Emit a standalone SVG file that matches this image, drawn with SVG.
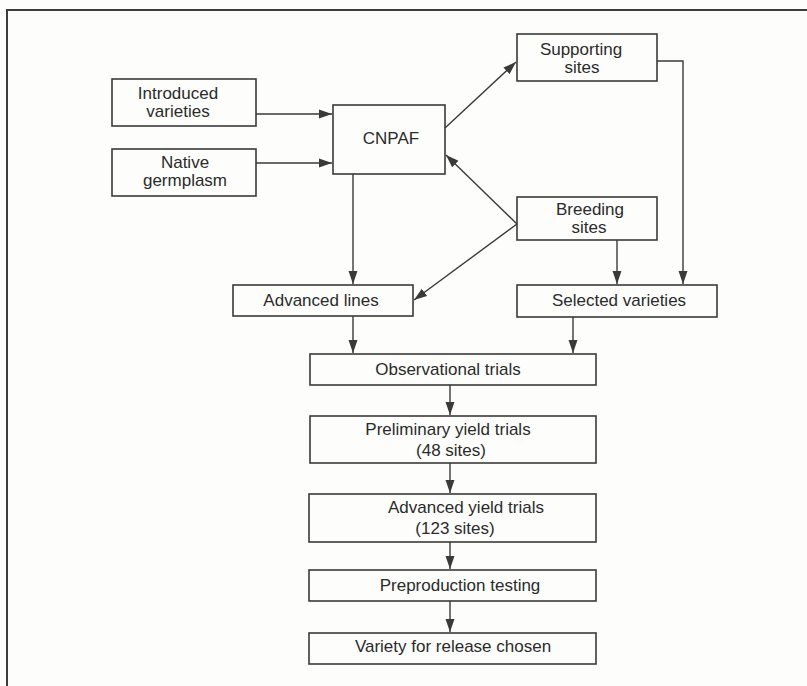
<svg xmlns="http://www.w3.org/2000/svg" width="807" height="686" viewBox="0 0 807 686">
<defs>
<style>
.box{fill:none;stroke:#3a3a3a;stroke-width:1.6}
.t{font-family:"Liberation Sans",Arial,sans-serif;font-size:17px;fill:#2b2b2b;text-anchor:middle}
.c{fill:none;stroke:#3a3a3a;stroke-width:1.4}
.frame{fill:none;stroke:#3a4038;stroke-width:2}
</style>
<marker id="ah" markerUnits="userSpaceOnUse" markerWidth="13" markerHeight="10" refX="13" refY="5" orient="auto">
<path d="M0,0.5 L13,5 L0,9.5 Z" fill="#3a3a3a"/>
</marker>
</defs>
<rect width="807" height="686" fill="#fdfdfb"/>
<path class="frame" d="M7,686 V10 H807"/>

<g id="connectors">
<line class="c" x1="256" y1="114" x2="332" y2="114" marker-end="url(#ah)"/>
<line class="c" x1="256" y1="163" x2="332" y2="163" marker-end="url(#ah)"/>
<line class="c" x1="445" y1="128" x2="516" y2="62" marker-end="url(#ah)"/>
<polyline class="c" points="657,61 683,61 683,284" marker-end="url(#ah)"/>
<line class="c" x1="517" y1="224" x2="446" y2="155" marker-end="url(#ah)"/>
<line class="c" x1="517" y1="224" x2="414" y2="300" marker-end="url(#ah)"/>
<line class="c" x1="617" y1="240" x2="617" y2="284" marker-end="url(#ah)"/>
<line class="c" x1="353" y1="174" x2="353" y2="284" marker-end="url(#ah)"/>
<line class="c" x1="353" y1="316" x2="353" y2="353" marker-end="url(#ah)"/>
<line class="c" x1="573" y1="317" x2="573" y2="353" marker-end="url(#ah)"/>
<line class="c" x1="450" y1="385" x2="450" y2="415" marker-end="url(#ah)"/>
<line class="c" x1="450" y1="463" x2="450" y2="493" marker-end="url(#ah)"/>
<line class="c" x1="450" y1="542" x2="450" y2="569" marker-end="url(#ah)"/>
<line class="c" x1="450" y1="601" x2="450" y2="632" marker-end="url(#ah)"/>
</g>

<g id="introduced">
<rect class="box" x="112" y="79" width="144" height="47"/>
<text class="t" x="178" y="99">Introduced</text>
<text class="t" x="178" y="117">varieties</text>
</g>
<g id="native">
<rect class="box" x="112" y="149" width="144" height="47"/>
<text class="t" x="185" y="168">Native</text>
<text class="t" x="185" y="186">germplasm</text>
</g>
<g id="cnpaf">
<rect class="box" x="333" y="105" width="112" height="69"/>
<text class="t" x="391" y="144">CNPAF</text>
</g>
<g id="supporting">
<rect class="box" x="517" y="34" width="140" height="47"/>
<text class="t" x="581" y="55">Supporting</text>
<text class="t" x="582" y="73">sites</text>
</g>
<g id="breeding">
<rect class="box" x="517" y="197" width="140" height="43"/>
<text class="t" x="590" y="215">Breeding</text>
<text class="t" x="589" y="233">sites</text>
</g>
<g id="advanced-lines">
<rect class="box" x="233" y="285" width="180" height="31"/>
<text class="t" x="321" y="306">Advanced lines</text>
</g>
<g id="selected">
<rect class="box" x="517" y="285" width="200" height="32"/>
<text class="t" x="619" y="306">Selected varieties</text>
</g>
<g id="observational">
<rect class="box" x="310" y="354" width="286" height="31"/>
<text class="t" x="448" y="375">Observational trials</text>
</g>
<g id="preliminary">
<rect class="box" x="310" y="416" width="286" height="47"/>
<text class="t" x="448" y="435">Preliminary yield trials</text>
<text class="t" x="451" y="456">(48 sites)</text>
</g>
<g id="advanced-yield">
<rect class="box" x="309" y="494" width="287" height="48"/>
<text class="t" x="466" y="513">Advanced yield trials</text>
<text class="t" x="455" y="534">(123 sites)</text>
</g>
<g id="preproduction">
<rect class="box" x="309" y="570" width="287" height="31"/>
<text class="t" x="460" y="591">Preproduction testing</text>
</g>
<g id="release">
<rect class="box" x="309" y="633" width="287" height="31"/>
<text class="t" x="453" y="652">Variety for release chosen</text>
</g>
</svg>
